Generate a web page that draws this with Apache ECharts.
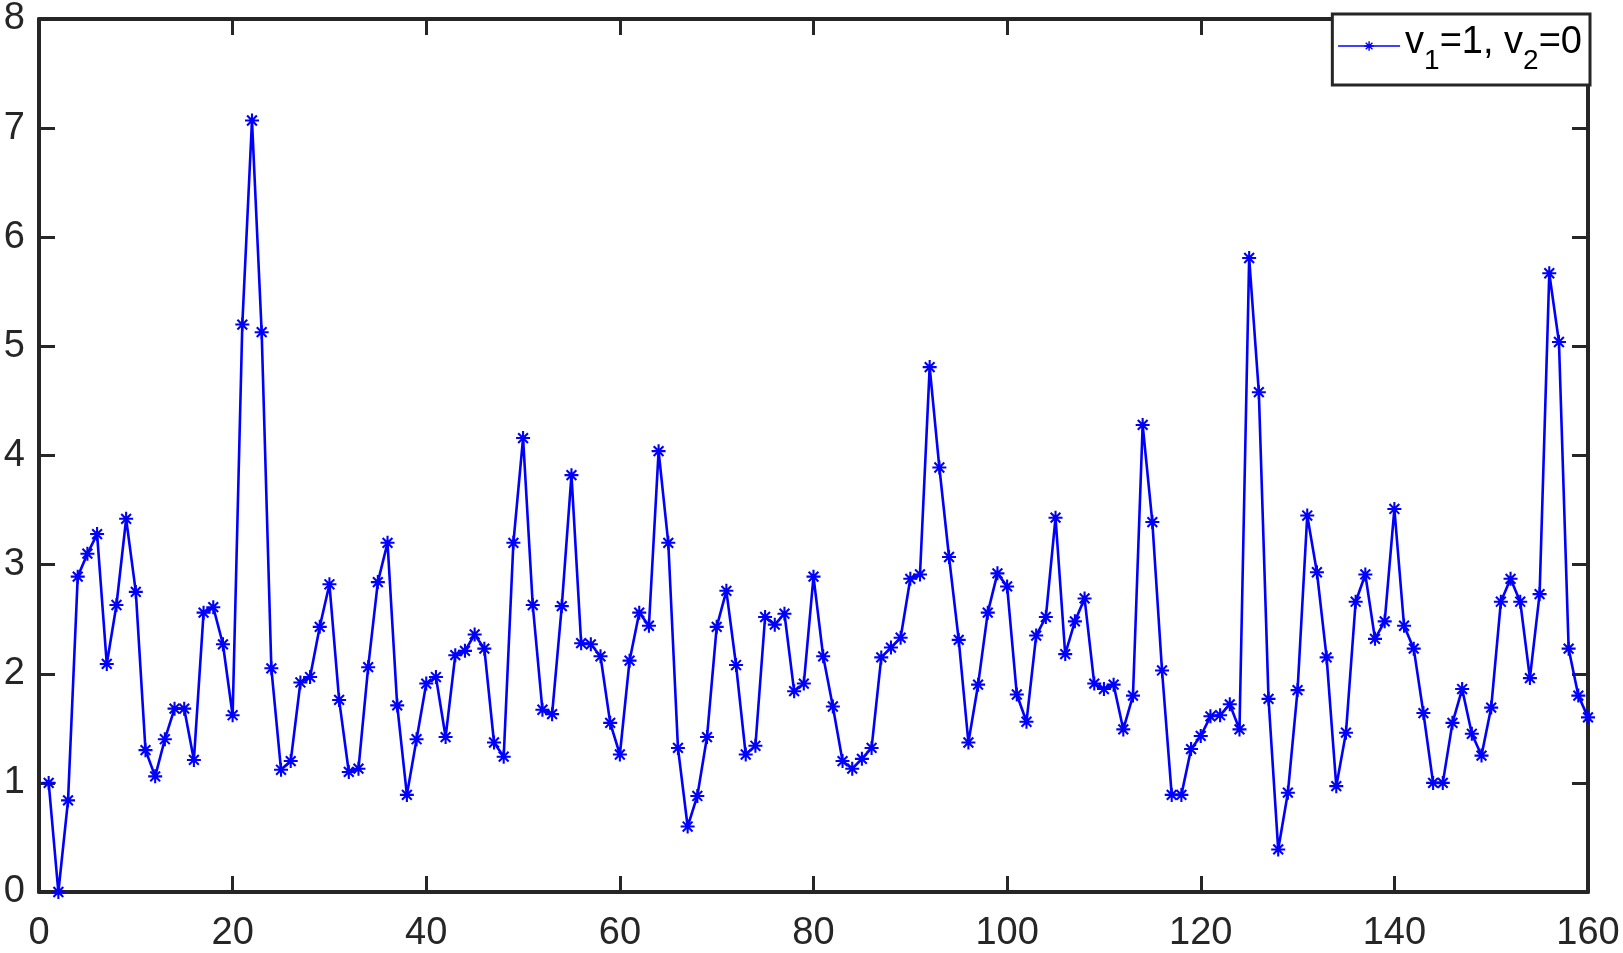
<!DOCTYPE html>
<html>
<head>
<meta charset="utf-8">
<script src="https://cdn.jsdelivr.net/npm/echarts@6/dist/echarts.min.js"></script>
<style>
  html, body { margin: 0; padding: 0; background: #fff; }
  #chart { width: 1623px; height: 953px; }
</style>
</head>
<body>
<div id="chart"></div>
<script>
// sample index 1..160
const xTicks = [0, 20, 40, 60, 80, 100, 120, 140, 160]
const yTicks = [0, 1, 2, 3, 4, 5, 6, 7, 8]

const values = [
  1.00, 0.00, 0.84, 2.89, 3.10, 3.28, 2.09, 2.63, 3.42, 2.75,
  1.30, 1.06, 1.40, 1.68, 1.68, 1.21, 2.56, 2.61, 2.27, 1.62,
  5.20, 7.07, 5.13, 2.05, 1.12, 1.20, 1.92, 1.97, 2.43, 2.82,
  1.76, 1.10, 1.13, 2.06, 2.84, 3.20, 1.71, 0.89, 1.40, 1.91,
  1.97, 1.42, 2.17, 2.21, 2.36, 2.23, 1.37, 1.24, 3.20, 4.16,
  2.63, 1.67, 1.63, 2.62, 3.82, 2.28, 2.27, 2.16, 1.55, 1.26,
  2.12, 2.56, 2.44, 4.04, 3.20, 1.32, 0.60, 0.88, 1.42, 2.43,
  2.76, 2.08, 1.26, 1.34, 2.52, 2.45, 2.55, 1.84, 1.91, 2.89,
  2.16, 1.70, 1.20, 1.13, 1.22, 1.32, 2.15, 2.24, 2.33, 2.87,
  2.91, 4.81, 3.89, 3.07, 2.31, 1.37, 1.90, 2.56, 2.92, 2.80,
  1.81, 1.56, 2.35, 2.52, 3.43, 2.18, 2.48, 2.69, 1.91, 1.86,
  1.90, 1.49, 1.80, 4.28, 3.39, 2.03, 0.89, 0.89, 1.31, 1.43,
  1.61, 1.62, 1.72, 1.49, 5.81, 4.58, 1.77, 0.39, 0.91, 1.85,
  3.45, 2.93, 2.15, 0.97, 1.46, 2.66, 2.91, 2.32, 2.48, 3.51,
  2.44, 2.23, 1.64, 1.00, 1.00, 1.55, 1.86, 1.45, 1.25, 1.69,
  2.66, 2.87, 2.66, 1.96, 2.73, 5.67, 5.04, 2.23, 1.80, 1.60
]

const seriesName = 'v1=1, v2=0'

const axisColor = '#262626'
const font = '"Liberation Sans", Arial, Helvetica, sans-serif'

// matlab style '*' marker
const starPath = 'path://M8.5,0L11.5,0L11.5,20L8.5,20Z' +
  'M0,8.5L20,8.5L20,11.5L0,11.5Z' +
  'M1.94,4.06L4.06,1.94L18.06,15.94L15.94,18.06Z' +
  'M15.94,1.94L18.06,4.06L4.06,18.06L1.94,15.94Z'

const chart = echarts.init(document.getElementById('chart'), null, { renderer: 'canvas' })

const boxAxis = (extra) => ({
  type: 'value',
  axisLine: { show: true, onZero: false, lineStyle: { color: axisColor, width: 4 } },
  axisTick: { show: true, inside: true, length: 16, lineStyle: { color: axisColor, width: 3 } },
  splitLine: { show: false },
  ...extra
})

const option = {
  animation: false,
  backgroundColor: '#fff',
  grid: { left: 39, right: 35, top: 17, bottom: 59 },
  legend: {
    data: [seriesName],
    right: 33,
    top: 14,
    orient: 'vertical',
    backgroundColor: '#fff',
    borderColor: axisColor,
    borderWidth: 3,
    padding: [10, 8, 10, 5],
    itemWidth: 62,
    itemHeight: 12,
    lineStyle: { width: 1.5 },
    formatter: () => '{a|v}{s|1}{a|=1, v}{s|2}{a|=0}',
    textStyle: {
      rich: {
        a: { fontFamily: font, fontSize: 38, color: '#000', padding: [0, 0, 6, 0] },
        s: { fontFamily: font, fontSize: 28, color: '#000', padding: [30, 0, 0, 0] }
      }
    }
  },
  xAxis: [
    boxAxis({
      min: xTicks[0], max: xTicks[xTicks.length - 1], interval: 20,
      position: 'bottom',
      axisLabel: { show: true, color: axisColor, fontFamily: font, fontSize: 38, margin: 23 }
    }),
    boxAxis({
      min: xTicks[0], max: xTicks[xTicks.length - 1], interval: 20,
      position: 'top',
      axisLabel: { show: false }
    })
  ],
  yAxis: [
    boxAxis({
      min: yTicks[0], max: yTicks[yTicks.length - 1], interval: 1,
      position: 'left',
      axisLabel: { show: true, color: axisColor, fontFamily: font, fontSize: 38, margin: 14 }
    }),
    boxAxis({
      min: yTicks[0], max: yTicks[yTicks.length - 1], interval: 1,
      position: 'right',
      axisLabel: { show: false }
    })
  ],
  series: [{
    name: seriesName,
    type: 'line',
    xAxisIndex: 0,
    yAxisIndex: 0,
    data: values.map((v, i) => [i + 1, v]),
    symbol: starPath,
    symbolSize: 14,
    showAllSymbol: true,
    clip: false,
    lineStyle: { color: '#0000ff', width: 2.6 },
    itemStyle: { color: '#0000ff' },
    z: 5
  }]
}

chart.setOption(option)
</script>
</body>
</html>
